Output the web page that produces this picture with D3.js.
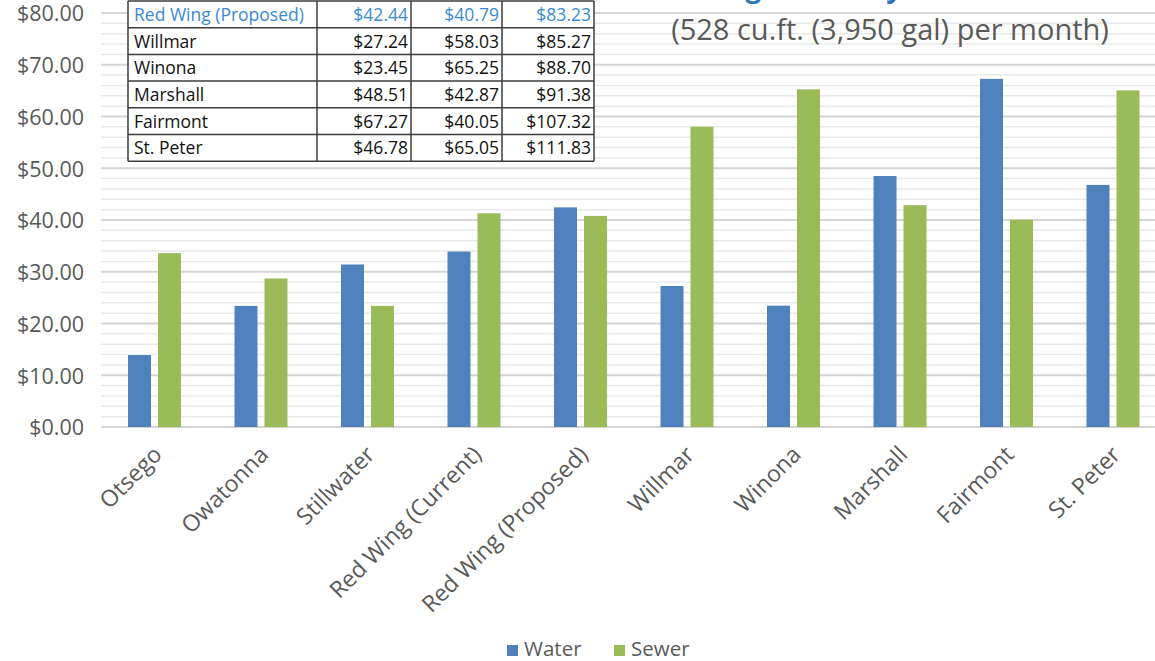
<!DOCTYPE html>
<html>
<head>
<meta charset="utf-8">
<script src="https://cdn.jsdelivr.net/npm/d3@7"></script>
<style>
  body { margin: 0; background: #fff; }
  svg { display: block; font-family: "Open Sans", sans-serif; }
</style>
</head>
<body>
<svg id="chart" width="1155" height="661"></svg>
<script>
// values
var categories = ['Otsego', 'Owatonna', 'Stillwater', 'Red Wing (Current)', 'Red Wing (Proposed)',
                  'Willmar', 'Winona', 'Marshall', 'Fairmont', 'St. Peter'];
var water = [13.9, 23.4, 31.4, 33.9, 42.44, 27.24, 23.45, 48.51, 67.27, 46.78];
var sewer = [33.6, 28.7, 23.4, 41.3, 40.79, 58.03, 65.25, 42.87, 40.05, 65.05];
var seriesNames = ['Water', 'Sewer'];
var yTicks = [0, 10, 20, 30, 40, 50, 60, 70, 80];

// the little table pasted on the chart
var tableCities = ['Red Wing (Proposed)', 'Willmar', 'Winona', 'Marshall', 'Fairmont', 'St. Peter'];
var tableTotals = [83.23, 85.27, 88.70, 91.38, 107.32, 111.83];

var colors = { Water: '#4f81bd', Sewer: '#9bbb59' };
var textGray = '#595959';

var svg = d3.select('#chart');
var money = function(v) { return '$' + d3.format('.2f')(v); };

var x = d3.scaleBand().domain(categories).range([101, 1166]);
var xs = d3.scaleBand().domain(seriesNames).range([27, 80]).paddingInner(0.233);
var y = d3.scaleLinear().domain([0, 80]).range([427, 13]);

// gridlines: minor every $2, major every $10
var minor = d3.range(0, 81, 2).filter(function(v) { return v % 10 !== 0; });
var grid = svg.append('g');
grid.selectAll('line.minor').data(minor).enter().append('line')
    .attr('x1', 101).attr('x2', 1166)
    .attr('y1', y).attr('y2', y)
    .attr('stroke', '#e9e9e9').attr('stroke-width', 1.5);
grid.selectAll('line.major').data(yTicks).enter().append('line')
    .attr('x1', 101).attr('x2', 1166)
    .attr('y1', y).attr('y2', y)
    .attr('stroke', '#d4d4d4').attr('stroke-width', 2);

// partially cropped title
svg.append('text')
    .attr('x', 664).attr('y', -3)
    .attr('font-size', 28).attr('font-weight', 700)
    .attr('fill', '#2e75b6')
    .text('Average Monthly Bill');

svg.append('text')
    .attr('x', 890).attr('y', 40)
    .attr('text-anchor', 'middle')
    .attr('font-size', 29)
    .attr('fill', textGray)
    .text('(528 cu.ft. (3,950 gal) per month)');

// bars
var rows = categories.map(function(c, i) {
    return { city: c, values: [{ key: 'Water', v: water[i] }, { key: 'Sewer', v: sewer[i] }] };
});
var groups = svg.append('g').selectAll('g').data(rows).enter().append('g')
    .attr('transform', function(d) { return 'translate(' + x(d.city) + ',0)'; });
groups.selectAll('rect').data(function(d) { return d.values; }).enter().append('rect')
    .attr('x', function(d) { return xs(d.key); })
    .attr('width', xs.bandwidth())
    .attr('y', function(d) { return y(d.v); })
    .attr('height', function(d) { return y(0) - y(d.v); })
    .attr('fill', function(d) { return colors[d.key]; });

// y axis
var yAxis = svg.append('g')
    .attr('transform', 'translate(101,0)')
    .call(d3.axisLeft(y).tickValues(yTicks).tickSize(0).tickPadding(17).tickFormat(money));
yAxis.select('.domain').remove();
yAxis.selectAll('text')
    .attr('font-family', '"Open Sans", sans-serif')
    .attr('font-size', 21.5)
    .attr('fill', textGray)
    .attr('dy', '0.36em');

// x axis
var xAxis = svg.append('g')
    .attr('transform', 'translate(0,427)')
    .call(d3.axisBottom(x).tickSize(0));
xAxis.select('.domain').remove();
xAxis.selectAll('text')
    .attr('font-family', '"Open Sans", sans-serif')
    .attr('font-size', 23)
    .attr('fill', textGray)
    .attr('text-anchor', 'end')
    .attr('dy', 0).attr('y', 0)
    .attr('transform', 'translate(9,29) rotate(-45)');

// table overlay
var tLeft = 128, tTop = 1, rowH = 26.7;
var colEdges = [tLeft, 317, 411, 502, 594];
var table = svg.append('g');
var tableData = tableCities.map(function(c, i) {
    var k = categories.indexOf(c);
    return [c, money(water[k]), money(sewer[k]), money(tableTotals[i])];
});
table.append('rect')
    .attr('x', tLeft).attr('y', tTop)
    .attr('width', colEdges[4] - tLeft).attr('height', rowH * tableData.length)
    .attr('fill', '#fff');
var tr = table.selectAll('g.row').data(tableData).enter().append('g')
    .attr('transform', function(d, i) { return 'translate(0,' + (tTop + i * rowH) + ')'; });
tr.selectAll('text').data(function(d, i) {
    return d.map(function(t, j) { return { t: t, j: j, blue: i === 0 }; });
}).enter().append('text')
    .attr('x', function(d) { return d.j === 0 ? colEdges[0] + 6 : colEdges[d.j + 1] - 3; })
    .attr('y', rowH / 2 + 6.5)
    .attr('text-anchor', function(d) { return d.j === 0 ? 'start' : 'end'; })
    .attr('font-size', 17.5)
    .attr('fill', function(d) { return d.blue ? '#3a8ad3' : '#111'; })
    .text(function(d) { return d.t; });
table.selectAll('line.h').data(d3.range(tableData.length + 1)).enter().append('line')
    .attr('x1', tLeft).attr('x2', colEdges[4])
    .attr('y1', function(i) { return tTop + i * rowH; })
    .attr('y2', function(i) { return tTop + i * rowH; })
    .attr('stroke', '#3c3c3c').attr('stroke-width', 1.5);
table.selectAll('line.v').data(colEdges).enter().append('line')
    .attr('x1', function(d) { return d; }).attr('x2', function(d) { return d; })
    .attr('y1', tTop).attr('y2', tTop + rowH * tableData.length)
    .attr('stroke', '#3c3c3c').attr('stroke-width', 1.5);

// legend
var legend = svg.append('g').attr('transform', 'translate(507,645)');
var items = legend.selectAll('g').data(seriesNames).enter().append('g')
    .attr('transform', function(d, i) { return 'translate(' + (i * 107) + ',0)'; });
items.append('rect').attr('width', 11).attr('height', 11)
    .attr('fill', function(d) { return colors[d]; });
items.append('text')
    .attr('x', 17).attr('y', 11)
    .attr('font-size', 20.5)
    .attr('fill', textGray)
    .text(function(d) { return d; });
</script>
</body>
</html>
